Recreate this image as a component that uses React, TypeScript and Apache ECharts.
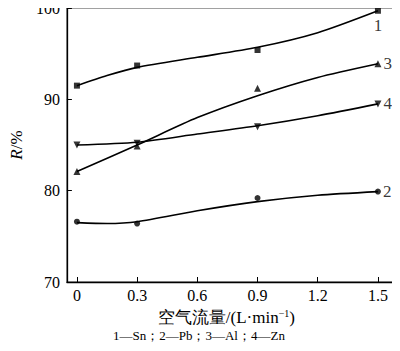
import React, { useEffect, useRef } from "react";
import * as echarts from "echarts";

// Measurement points
const flowX = [0, 0.3, 0.9, 1.5];
const snPts = [91.5, 93.7, 95.4, 99.7];
const pbPts = [76.6, 76.4, 79.2, 79.9];
const alPts = [82.1, 84.9, 91.2, 93.9];
const znPts = [85.0, 85.2, 87.0, 89.5];

// Fitted curves
const snFitX = [0, 0.15, 0.3, 0.6, 0.9, 1.2, 1.5];
const snFit = [91.5, 92.6, 93.5, 94.6, 95.7, 97.3, 99.7];
const pbFitX = [0, 0.15, 0.3, 0.6, 0.9, 1.2, 1.5];
const pbFit = [76.5, 76.4, 76.6, 77.8, 78.8, 79.5, 79.9];
const alFitX = [0, 0.3, 0.6, 0.9, 1.2, 1.5];
const alFit = [82.1, 85.0, 88.0, 90.4, 92.4, 93.9];
const znFitX = [0, 0.3, 0.6, 0.9, 1.2, 1.5];
const znFit = [85.0, 85.3, 86.2, 87.1, 88.2, 89.5];

const xTicks = [0, 0.3, 0.6, 0.9, 1.2, 1.5];
const curveNames = ["1", "2", "3", "4"];
const caption = "1—Sn；2—Pb；3—Al；4—Zn";

const FONT = "'Liberation Serif', 'Times New Roman', serif";

export default function App() {
  const ref = useRef<HTMLDivElement>(null);
  useEffect(() => {
    if (!ref.current) return;
    const chart = echarts.init(ref.current, null, { renderer: "svg" });
    const zip = (xs: number[], ys: number[]) => xs.map((x, i) => [x, ys[i]]);
    const fit = (xs: number[], ys: number[]) => ({
      type: "line",
      data: zip(xs, ys),
      smooth: 0.25,
      showSymbol: false,
      symbol: "none",
      lineStyle: { color: "#000", width: 1.6 },
      silent: true,
      z: 2,
    });
    const pts = (
      ys: number[],
      symbol: string,
      size: number,
      name: string,
      pos: string,
      rotate = 0
    ) => ({
      type: "scatter",
      data: flowX.map((x, i) =>
        i === flowX.length - 1
          ? {
              value: [x, ys[i]],
              label: {
                show: true,
                formatter: name,
                position: pos,
                distance: pos === "bottom" ? 3 : 2,
                color: "#000",
                fontFamily: FONT,
                fontSize: 17,
              },
            }
          : { value: [x, ys[i]] }
      ),
      symbol,
      symbolSize: size,
      symbolRotate: rotate,
      itemStyle: { color: "#000" },
      z: 3,
    });
    chart.setOption({
      animation: false,
      grid: { left: 52, right: 2, top: 6, bottom: 69, show: true, borderColor: "#444", borderWidth: 1 },
      xAxis: {
        type: "value",
        min: -0.05,
        max: 1.6,
        name: "空气流量/(L·min{sup|−1})",
        nameLocation: "middle",
        nameGap: 26,
        nameTextStyle: {
          color: "#000",
          fontFamily: FONT,
          fontSize: 17,
          padding: [0, 12, 0, 0],
          rich: { sup: { fontSize: 10, verticalAlign: "top", padding: [0, 0, 8, 0], fontFamily: FONT, color: "#000" } },
        },
        axisLine: { onZero: false, lineStyle: { color: "#000", width: 1.3 } },
        axisTick: { inside: true, length: 5, customValues: xTicks, lineStyle: { color: "#000" } },
        axisLabel: {
          customValues: xTicks,
          color: "#000",
          fontFamily: FONT,
          fontSize: 16,
          margin: 5,
          formatter: (v: number) => String(Math.round(v * 10) / 10),
        },
        splitLine: { show: false },
      },
      yAxis: {
        type: "value",
        min: 70,
        max: 100,
        interval: 10,
        name: "{i|R}/%",
        nameLocation: "middle",
        nameGap: 37,
        nameTextStyle: {
          color: "#000",
          fontFamily: FONT,
          fontSize: 17,
          rich: { i: { fontStyle: "italic", fontFamily: FONT, fontSize: 17, color: "#000" } },
        },
        axisLine: { show: true, onZero: false, lineStyle: { color: "#000", width: 1.3 } },
        axisTick: { inside: true, length: 5, lineStyle: { color: "#000" } },
        axisLabel: { color: "#000", fontFamily: FONT, fontSize: 16, margin: 7 },
        splitLine: { show: false },
      },
      graphic: [
        {
          type: "text",
          left: 113,
          top: 329,
          style: { text: caption, fill: "#000", font: `13px ${FONT}` },
        },
      ],
      series: [
        fit(snFitX, snFit),
        fit(pbFitX, pbFit),
        fit(alFitX, alFit),
        fit(znFitX, znFit),
        pts(snPts, "rect", 6, curveNames[0], "bottom"),
        pts(pbPts, "circle", 6, curveNames[1], "right"),
        pts(alPts, "triangle", 7, curveNames[2], "right"),
        pts(znPts, "triangle", 7, curveNames[3], "right", 180),
      ],
    });
    return () => chart.dispose();
  }, []);
  return <div ref={ref} style={{ width: 400, height: 351, margin: -8 }} />;
}
